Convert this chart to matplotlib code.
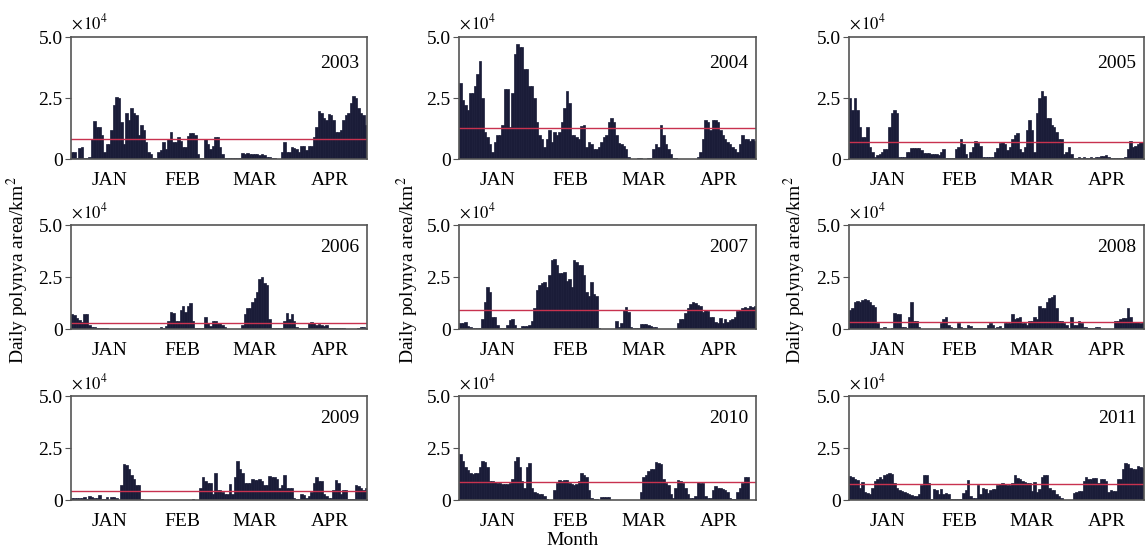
import matplotlib.pyplot as plt
import numpy as np

plt.rcParams['font.family'] = ['Liberation Serif', 'DejaVu Serif']
plt.rcParams['mathtext.fontset'] = 'stix'

# daily polynya area, units of 10^4 km2, Jan 1 - Apr 30 (120 days)
years = ["2003", "2004", "2005", "2006", "2007", "2008", "2009", "2010", "2011"]
months = ["JAN", "FEB", "MAR", "APR"]
month_mid = [15.5, 45, 74.5, 105]

y2003 = [0.3, 0.3, 0.05, 0.45, 0.5, 0.05, 0.05, 0.1, 0.8, 1.55,
         1.3, 1.3, 1.0, 0.3, 0.6, 0.6, 1.2, 2.2, 2.55, 2.5,
         1.5, 0.6, 1.9, 1.6, 2.1, 1.9, 1.8, 1.0, 1.4, 1.2,
         0.7, 0.3, 0.2, 0.05, 0.05, 0.3, 0.35, 0.7, 0.4, 0.8,
         1.1, 0.7, 0.7, 0.9, 0.75, 0.5, 0.5, 0.95, 1.05, 1.05,
         1.0, 0.2, 0.05, 0.05, 0.8, 0.6, 0.4, 0.55, 0.9, 0.9,
         0.5, 0.2, 0.05, 0.05, 0.05, 0.05, 0.05, 0.05, 0.05, 0.25,
         0.22, 0.25, 0.2, 0.22, 0.2, 0.2, 0.15, 0.2, 0.15, 0.1,
         0.1, 0.05, 0.05, 0.02, 0.02, 0.3, 0.7, 0.3, 0.3, 0.5,
         0.45, 0.4, 0.3, 0.55, 0.55, 0.35, 0.55, 0.55, 0.9, 1.3,
         1.95, 1.9, 1.7, 1.6, 1.85, 1.8, 1.6, 1.1, 1.1, 1.2,
         1.6, 1.8, 1.9, 2.3, 2.6, 2.5, 2.1, 1.9, 1.8, 1.4]

y2004 = [3.1, 2.4, 2.2, 2.0, 2.7, 2.7, 3.0, 3.5, 4.0, 2.5,
         1.1, 0.9, 0.6, 0.3, 0.7, 1.0, 1.0, 1.4, 2.85, 2.85,
         1.3, 2.7, 4.3, 4.7, 4.6, 4.6, 3.7, 3.7, 3.0, 3.0,
         2.5, 1.5, 1.0, 0.8, 0.5, 0.8, 1.2, 0.7, 1.1, 1.0,
         1.1, 1.5, 2.1, 2.8, 2.3, 1.0, 1.0, 0.9, 0.8, 1.35,
         1.4, 0.5, 0.7, 0.6, 0.4, 0.4, 0.5, 0.7, 0.9, 1.0,
         1.5, 1.7, 1.5, 1.0, 0.65, 0.6, 0.55, 0.4, 0.1, 0.02,
         0.02, 0.02, 0.05, 0.05, 0.02, 0.02, 0.05, 0.05, 0.4, 0.6,
         0.5, 1.4, 1.0, 0.6, 0.4, 0.2, 0.05, 0.05, 0.02, 0.02,
         0.02, 0.02, 0.02, 0.02, 0.02, 0.02, 0.1, 0.3, 0.8, 1.6,
         1.5, 1.2, 1.6, 1.6, 1.5, 1.2, 1.0, 0.8, 0.7, 0.6,
         0.5, 0.4, 0.3, 0.6, 1.0, 0.8, 0.8, 0.75, 0.8, 0.75]

y2005 = [2.5, 2.0, 2.5, 2.0, 1.3, 0.9, 0.9, 1.3, 0.5, 0.3,
         0.1, 0.15, 0.2, 0.3, 0.4, 0.4, 1.3, 1.9, 2.0, 1.9,
         0.1, 0.1, 0.1, 0.3, 0.3, 0.45, 0.45, 0.45, 0.45, 0.35,
         0.25, 0.25, 0.25, 0.2, 0.2, 0.2, 0.15, 0.3, 0.4, 0.05,
         0.05, 0.05, 0.05, 0.4, 0.5, 0.8, 0.6, 0.2, 0.05, 0.3,
         0.5, 0.75, 0.65, 0.55, 0.1, 0.1, 0.1, 0.1, 0.1, 0.3,
         0.45, 0.65, 0.7, 0.6, 0.35, 0.5, 0.8, 1.0, 1.05, 0.4,
         0.3, 0.5, 1.2, 1.6, 1.2, 0.3, 1.9, 2.5, 2.8, 2.6,
         1.7, 1.7, 1.4, 1.3, 1.1, 0.8, 0.8, 0.2, 0.3, 0.5,
         0.2, 0.05, 0.05, 0.08, 0.05, 0.08, 0.05, 0.05, 0.08, 0.05,
         0.08, 0.1, 0.12, 0.12, 0.15, 0.1, 0.05, 0.05, 0.05, 0.05,
         0.05, 0.05, 0.1, 0.4, 0.75, 0.5, 0.55, 0.6, 0.7, 0.7]

y2006 = [0.7, 0.65, 0.55, 0.45, 0.35, 0.7, 0.7, 0.2, 0.1, 0.1,
         0.03, 0.03, 0.03, 0.03, 0.05, 0, 0, 0, 0, 0,
         0, 0, 0, 0, 0, 0, 0, 0, 0, 0,
         0, 0, 0, 0, 0, 0, 0.1, 0.05, 0.15, 0.4,
         0.8, 0.75, 0.4, 0.4, 0.9, 1.1, 0.8, 1.1, 1.25, 0.4,
         0.05, 0.05, 0.05, 0.05, 0.6, 0.3, 0.15, 0.4, 0.4, 0.3,
         0.3, 0.2, 0.1, 0.02, 0.02, 0.02, 0.02, 0.02, 0.02, 0.2,
         0.7, 1.0, 1.0, 1.3, 1.5, 1.8, 2.4, 2.5, 2.2, 2.1,
         0.5, 0.05, 0.05, 0.05, 0.05, 0.05, 0.4, 0.75, 0.5, 0.7,
         0.4, 0.1, 0.05, 0.05, 0.05, 0.05, 0.3, 0.35, 0.3, 0.2,
         0.25, 0.2, 0.15, 0.2, 0.05, 0.05, 0.05, 0.05, 0.05, 0.05,
         0.05, 0.02, 0.02, 0.02, 0.02, 0.02, 0.05, 0.1, 0.1, 0.05]

y2007 = [0.3, 0.3, 0.35, 0.15, 0.1, 0.05, 0.05, 0.05, 0.05, 0.5,
         1.3, 2.0, 1.8, 0.6, 0.6, 0.2, 0.05, 0.05, 0.05, 0.2,
         0.45, 0.5, 0.2, 0.05, 0.05, 0.15, 0.15, 0.15, 0.2, 0.4,
         1.0, 1.9, 2.1, 2.2, 2.25, 2.0, 2.6, 3.3, 3.35, 3.1,
         2.7, 2.7, 2.75, 2.3, 2.4, 2.0, 3.3, 3.2, 3.1, 3.1,
         2.6, 1.8, 1.6, 2.25, 1.7, 1.6, 0.05, 0.02, 0.02, 0.02,
         0.02, 0.02, 0.02, 0.4, 0.1, 0.3, 0.9, 1.05, 0.8, 0.1,
         0.05, 0.05, 0.05, 0.25, 0.25, 0.25, 0.2, 0.15, 0.1, 0.1,
         0.02, 0.02, 0.02, 0.02, 0.02, 0.02, 0.02, 0.02, 0.3, 0.5,
         0.5, 0.75, 1.0, 1.2, 1.3, 1.25, 1.15, 1.1, 0.8, 0.9,
         0.85, 0.6, 0.6, 0.35, 0.3, 0.55, 0.3, 0.5, 0.35, 0.45,
         0.5, 0.6, 0.85, 0.9, 1.0, 1.05, 1.0, 1.1, 1.05, 1.1]

y2008 = [0.9, 1.0, 1.3, 1.35, 1.3, 1.4, 1.45, 1.4, 1.3, 1.15,
         1.05, 0.3, 0.05, 0.05, 0.1, 0.02, 0.02, 0.05, 0.75, 0.7,
         0.7, 0.1, 0.1, 0.05, 0.6, 1.3, 0.4, 0.4, 0.1, 0.02,
         0.02, 0.02, 0.02, 0.02, 0.02, 0.02, 0.02, 0.3, 0.5, 0.6,
         0.2, 0.1, 0.05, 0.05, 0.3, 0.1, 0.05, 0.05, 0.2, 0.15,
         0.05, 0.05, 0.05, 0.05, 0.05, 0.05, 0.2, 0.3, 0.2, 0.05,
         0.1, 0.15, 0.05, 0.3, 0.3, 0.3, 0.7, 0.5, 0.55, 0.6,
         0.3, 0.3, 0.2, 0.4, 0.4, 0.6, 0.5, 1.1, 1.0, 1.0,
         1.3, 1.5, 1.55, 1.65, 1.0, 0.4, 0.4, 0.3, 0.2, 0.05,
         0.6, 0.2, 0.2, 0.4, 0.3, 0.1, 0.1, 0.03, 0.03, 0.03,
         0.1, 0.1, 0.02, 0.02, 0.02, 0.02, 0.02, 0.02, 0.4, 0.4,
         0.5, 0.55, 0.55, 1.0, 0.6, 0.35, 0.35, 0.35, 0.3, 0.3]

y2009 = [0.1, 0.1, 0.12, 0.12, 0.12, 0.15, 0.05, 0.2, 0.15, 0.1,
         0.1, 0.25, 0.05, 0.05, 0.15, 0.02, 0.15, 0.15, 0.1, 0.02,
         0.7, 1.75, 1.7, 1.5, 1.2, 1.0, 0.7, 0.7, 0.05, 0,
         0, 0, 0, 0, 0, 0, 0, 0, 0, 0,
         0, 0, 0, 0, 0, 0, 0, 0, 0, 0.05,
         0.02, 0.02, 0.6, 1.1, 0.9, 0.8, 0.8, 0.3, 1.3, 0.5,
         0.5, 0.4, 0.3, 0.3, 0.75, 0.3, 1.1, 1.9, 1.5, 1.3,
         0.8, 0.8, 0.8, 1.0, 0.95, 0.95, 1.0, 0.9, 0.7, 0.7,
         1.15, 1.1, 1.1, 1.0, 0.6, 0.7, 1.2, 0.6, 0.6, 0.6,
         0.1, 0.05, 0.05, 0.3, 0.25, 0.1, 0.2, 0.4, 0.8, 1.1,
         0.9, 0.9, 0.3, 0.2, 0.1, 0.1, 0.5, 0.95, 0.8, 0.3,
         0.5, 0.5, 0.05, 0.05, 0.05, 0.7, 0.65, 0.6, 0.5, 0.6]

y2010 = [2.2, 1.9, 1.6, 1.45, 1.3, 1.25, 1.3, 1.3, 1.6, 1.9,
         1.85, 1.6, 0.9, 0.9, 0.85, 0.8, 0.8, 0.75, 0.75, 0.75,
         0.8, 1.0, 1.9, 2.05, 1.6, 0.9, 0.6, 1.6, 1.8, 0.6,
         0.4, 0.35, 0.3, 0.3, 0.2, 0.05, 0.02, 0.02, 0.5, 0.8,
         0.95, 0.9, 0.95, 0.95, 0.8, 0.75, 0.7, 0.75, 0.9, 1.3,
         1.2, 1.1, 0.5, 0.1, 0.05, 0.05, 0.02, 0.15, 0.15, 0.15,
         0.15, 0.02, 0.02, 0.02, 0.02, 0.02, 0.02, 0.02, 0.02, 0.02,
         0.02, 0.02, 0.02, 0.4, 1.1, 1.2, 1.4, 1.5, 1.5, 1.85,
         1.8, 1.75, 1.0, 0.8, 0.7, 0.3, 0.1, 0.6, 0.95, 0.9,
         0.8, 0.6, 0.3, 0.1, 0.1, 0.2, 0.85, 0.8, 0.8, 0.2,
         0.1, 0.1, 0.5, 0.65, 0.6, 0.6, 0.55, 0.5, 0.4, 0.1,
         0.05, 0.05, 0.4, 0.6, 0.8, 1.1, 1.1, 0, 0, 0]

y2011 = [1.15, 1.1, 1.0, 0.95, 0.6, 0.85, 0.4, 0.35, 0.3, 0.6,
         0.9, 1.0, 1.1, 1.0, 1.2, 1.25, 1.3, 1.25, 0.8, 0.6,
         0.5, 0.45, 0.4, 0.35, 0.3, 0.25, 0.2, 0.2, 0.3, 0.7,
         1.2, 1.2, 0.8, 0.05, 0.55, 0.5, 0.3, 0.55, 0.3, 0.35,
         0.3, 0.05, 0.05, 0.05, 0.05, 0.05, 0.35, 0.5, 0.95, 0.2,
         0.1, 0.1, 0.7, 0.3, 0.6, 0.55, 0.35, 0.5, 0.55, 0.55,
         0.7, 0.75, 0.8, 0.75, 0.7, 0.7, 0.8, 1.2, 1.05, 1.0,
         0.9, 0.85, 0.8, 0.8, 0.45, 0.85, 0.4, 0.55, 1.1, 1.2,
         1.2, 0.6, 0.5, 0.5, 0.3, 0.2, 0.1, 0.02, 0.02, 0.02,
         0.02, 0.35, 0.4, 0.45, 0.45, 0.9, 1.1, 1.0, 1.0, 1.05,
         1.05, 0.8, 1.0, 1.0, 0.9, 0.4, 0.5, 0.45, 0.45, 1.0,
         1.0, 1.5, 1.8, 1.75, 1.55, 1.5, 1.5, 1.65, 1.6, 1.55]

series = [y2003, y2004, y2005, y2006, y2007, y2008, y2009, y2010, y2011]
means = [0.84, 1.27, 0.68, 0.29, 0.93, 0.35, 0.45, 0.87, 0.75]

bar_color = '#1a1c38'
line_color = '#c8324f'

fig = plt.figure(figsize=(11.45, 5.5), dpi=100)

lefts = [0.062, 0.401, 0.7415]
widths = [0.2585, 0.2594, 0.2576]
bottoms = [0.7109, 0.4018, 0.0909]
heights = [0.2218, 0.189, 0.189]

for i, vals in enumerate(series):
    r, c = divmod(i, 3)
    ax = fig.add_axes([lefts[c], bottoms[r], widths[c], heights[r]])
    days = np.arange(len(vals))
    ax.bar(days, vals, width=1.0, align='edge', color=bar_color,
           edgecolor=bar_color, linewidth=0.5)
    ax.axhline(means[i], color=line_color, lw=1.0)
    ax.set_xlim(0, 120)
    ax.set_ylim(0, 5.0)
    ax.set_yticks([0, 2.5, 5.0])
    ax.set_yticklabels(["0", "2.5", "5.0"])
    ax.set_xticks(month_mid)
    ax.set_xticklabels(months)
    ax.tick_params(axis='x', length=0, pad=9, labelsize=14)
    ax.tick_params(axis='y', direction='out', length=4, pad=2, labelsize=14,
                   color='#555555')
    for s in ax.spines.values():
        s.set_color('#555555')
        s.set_linewidth(1.2)
    ax.text(0.975, 0.78, years[i], transform=ax.transAxes, ha='right',
            va='center', fontsize=14)
    ax.text(0.0, 1.03, r'$\times\,10^{4}$', transform=ax.transAxes,
            ha='left', va='bottom', fontsize=12)

for x in [0.0157, 0.356, 0.694]:
    fig.text(x, 0.509, "Daily polynya area/km$^2$", rotation=90,
             ha='center', va='center', fontsize=14)
fig.text(0.5, 0.018, "Month", ha='center', va='center', fontsize=14)

fig.savefig("out.png", dpi=100)
